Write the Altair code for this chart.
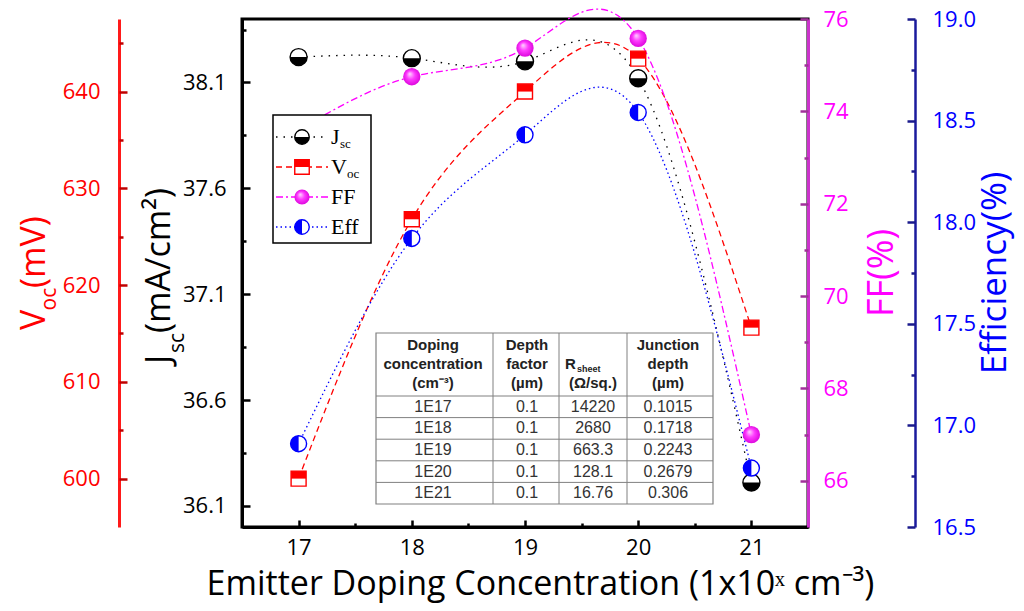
import altair as alt
import pandas as pd

# ---------------- data ----------------
doping = [17, 18, 19, 20, 21]
jsc = [38.22, 38.215, 38.20, 38.12, 36.21]
voc = [600.0, 626.8, 640.0, 643.4, 615.6]
ff = [73.6, 74.75, 75.37, 75.58, 67.0]
eff = [16.91, 17.92, 18.43, 18.54, 16.79]

x_ticks = [17, 18, 19, 20, 21]
x_minor = [17.5, 18.5, 19.5, 20.5]
jsc_ticks = [36.1, 36.6, 37.1, 37.6, 38.1]
jsc_minor = [36.35, 36.85, 37.35, 37.85, 38.35]
voc_ticks = [600, 610, 620, 630, 640]
voc_minor = [605, 615, 625, 635, 645]
ff_ticks = [66, 68, 70, 72, 74, 76]
ff_minor = [67, 69, 71, 73, 75]
eff_ticks = [16.5, 17.0, 17.5, 18.0, 18.5, 19.0]
eff_minor = [16.75, 17.25, 17.75, 18.25, 18.75]

tbl_doping = ["1E17", "1E18", "1E19", "1E20", "1E21"]
tbl_depth = ["0.1", "0.1", "0.1", "0.1", "0.1"]
tbl_rsheet = ["14220", "2680", "663.3", "128.1", "16.76"]
tbl_junction = ["0.1015", "0.1718", "0.2243", "0.2679", "0.306"]

df = pd.DataFrame({"x": doping, "jsc": jsc, "voc": voc, "ff": ff, "eff": eff})

# ---------------- styling ----------------
W, H = 566, 508
FONT = "Open Sans"
HALF_BOTTOM = "M -1 0 A 1 1 0 0 0 1 0 Z"
HALF_LEFT = "M 0 -1 A 1 1 0 0 0 0 1 Z"
HALF_TOP_SQ = "M -1 -1 L 1 -1 L 1 0 L -1 0 Z"
SPHERE = {
    "gradient": "radial",
    "x1": 0.38, "y1": 0.33, "r1": 0.0,
    "x2": 0.5, "y2": 0.5, "r2": 0.55,
    "stops": [
        {"offset": 0.0, "color": "#ffd8ff"},
        {"offset": 0.45, "color": "#ff3cff"},
        {"offset": 1.0, "color": "#d800d8"},
    ],
}

series = [
    dict(field="jsc", domain=[36.0, 38.4], color="#000000", dash=[1.5, 6],
         orient="left", offset=0, ticks=jsc_ticks, minor=jsc_minor, fmt=".1f",
         label="#000000", dom="#000000", tick="#000000", pad=16, dw=3,
         shape="circle", half=HALF_BOTTOM, size=289),
    dict(field="voc", domain=[595, 647.5], color="#ff0000", dash=[6, 4],
         orient="left", offset=123, ticks=voc_ticks, minor=voc_minor, fmt="d",
         label="#ff0000", dom="#ff1a1a", tick="#c00000", pad=19, dw=3,
         shape="square", half=HALF_TOP_SQ, size=225),
    dict(field="ff", domain=[65, 76], color="#ff00ff", dash=[7, 3, 2, 3],
         orient="right", offset=0, ticks=ff_ticks, minor=ff_minor, fmt="d",
         label="#ff00ff", dom="#cc33cc", tick="#a0309a", pad=15, dw=3,
         shape="circle", half=None, size=300),
    dict(field="eff", domain=[16.5, 19.0], color="#0000ff", dash=[1.5, 3],
         orient="right", offset=107, ticks=eff_ticks, minor=eff_minor, fmt=".1f",
         label="#0000ff", dom="#1a1a9c", tick="#1a1a8c", pad=17, dw=2.5,
         shape="circle", half=HALF_LEFT, size=256),
]


def X(axis=None):
    return alt.X("x:Q", scale=alt.Scale(domain=[16.5, 21.5], nice=False, zero=False), axis=axis)


def Y(s, axis=None):
    return alt.Y(f"{s['field']}:Q", scale=alt.Scale(domain=s["domain"], nice=False, zero=False), axis=axis)


def main_axis(s):
    return alt.Axis(orient=s["orient"], offset=s["offset"], values=s["ticks"], format=s["fmt"],
                    ticks=False, domain=True, domainColor=s["dom"], domainWidth=s["dw"],
                    labelColor=s["label"], labelFont=FONT, labelFontSize=22,
                    labelPadding=s["pad"], labelFlush=False, labelOverlap=False,
                    title=None, grid=False)


def tick_axis(orient, offset, values, size, color, width=2.5):
    return alt.Axis(orient=orient, offset=offset, values=values, ticks=True,
                    tickSize={"expr": str(-size)}, tickColor=color, tickWidth=width,
                    labels=False, domain=False, title=None, grid=False)


x_main = alt.Axis(orient="bottom", values=x_ticks, format="d", ticks=False, domain=True,
                  domainColor="black", domainWidth=3, labelColor="black", labelFont=FONT,
                  labelFontSize=22, labelPadding=10, labelFlush=False, labelOverlap=False,
                  title="Emitter Doping Concentration (1x10ˣ cm⁻³)", titleFont=FONT,
                  titleFontSize=34, titleFontWeight="normal", titleColor="black",
                  titleX=298, titleY=67, titleBaseline="alphabetic", titleAlign="center",
                  grid=False)
x_major_ax = tick_axis("bottom", 0, x_ticks, 7, "black")
x_minor_ax = tick_axis("bottom", 0, x_minor, 4, "black")

line_layers, full_layers, half_layers = [], [], []
for i, s in enumerate(series):
    line_layers.append(
        alt.Chart(df).mark_line(interpolate="natural", color=s["color"], strokeWidth=1.3,
                                strokeDash=s["dash"])
        .encode(x=X(x_main if i == 0 else None), y=Y(s, main_axis(s)))
    )
    if s["field"] == "ff":
        full = alt.Chart(df).mark_point(shape="circle", filled=True, fill=SPHERE, strokeWidth=0,
                                        size=s["size"], opacity=1)
    else:
        full = alt.Chart(df).mark_point(shape=s["shape"], filled=True, fill="white",
                                        stroke=s["color"], strokeWidth=1.4, size=s["size"], opacity=1)
    full_layers.append(full.encode(
        x=X(x_major_ax if i == 0 else None),
        y=Y(s, tick_axis(s["orient"], s["offset"], s["ticks"], 8, s["tick"]))))
    if s["half"] is not None:
        half = alt.Chart(df).mark_point(shape=s["half"], filled=True, fill=s["color"],
                                        strokeWidth=0, size=s["size"], opacity=1)
    else:
        half = alt.Chart(df).mark_point(shape="circle", filled=True, fill="white",
                                        size=20, opacity=0)
    half_layers.append(half.encode(
        x=X(x_minor_ax if i == 0 else None),
        y=Y(s, tick_axis(s["orient"], s["offset"], s["minor"], 4, s["tick"]))))


def one():
    return alt.Chart(pd.DataFrame({"k": [0]}))


def text(t, x, y, **kw):
    return one().mark_text(text=t, **kw).encode(x=alt.value(x), y=alt.value(y))


def hline(x1, x2, y, **kw):
    return one().mark_rule(**kw).encode(x=alt.value(x1), x2=alt.value(x2), y=alt.value(y))


def vline(x, y1, y2, **kw):
    return one().mark_rule(**kw).encode(x=alt.value(x), y=alt.value(y1), y2=alt.value(y2))


deco = []

# ---------- rotated axis titles ----------
rot = dict(font=FONT, angle=270, align="left", baseline="alphabetic")
deco += [
    text("V", -197, 311, fontSize=34, color="#ff0000", **rot),
    text("oc", -186, 291.5, fontSize=21, color="#ff0000", **rot),
    text("(mV)", -197, 269, fontSize=34, color="#ff0000", **rot),
    text("J", -72, 345, fontSize=34, color="black", **rot),
    text("sc", -58, 334, fontSize=21, color="black", **rot),
    text("(mA/cm²)", -72, 314, fontSize=34, color="black", **rot),
]
ctr = dict(font=FONT, angle=270, align="center", baseline="alphabetic")
deco += [
    text("FF(%)", 651, 254, fontSize=36, color="#ff00ff", **ctr),
    text("Efficiency(%)", 764, 254, fontSize=35, color="#0000ff", **ctr),
]

# ---------- legend ----------
deco.append(one().mark_rect(fill="white", stroke="black", strokeWidth=1.5)
            .encode(x=alt.value(31), x2=alt.value(129), y=alt.value(96), y2=alt.value(224)))
leg_y = [118, 148, 178, 208]
leg_main = ["J", "V", "FF", "Eff"]
leg_sub = ["sc", "oc", "", ""]
leg_subx = [9, 16, 0, 0]
for s, yy, m, sb, sx in zip(series, leg_y, leg_main, leg_sub, leg_subx):
    deco.append(hline(34, 86, yy, color=s["color"], strokeWidth=1.3, strokeDash=s["dash"]))
    if s["field"] == "ff":
        deco.append(one().mark_point(shape="circle", filled=True, fill=SPHERE, strokeWidth=0,
                                     size=230, opacity=1).encode(x=alt.value(60), y=alt.value(yy)))
    else:
        deco.append(one().mark_point(shape=s["shape"], filled=True, fill="white", stroke=s["color"],
                                     strokeWidth=1.4, size=210, opacity=1)
                    .encode(x=alt.value(60), y=alt.value(yy)))
        deco.append(one().mark_point(shape=s["half"], filled=True, fill=s["color"], strokeWidth=0,
                                     size=210, opacity=1).encode(x=alt.value(60), y=alt.value(yy)))
    deco.append(text(m, 89, yy + 7, font="Liberation Serif", fontSize=22, color="black",
                     align="left", baseline="alphabetic"))
    if sb:
        deco.append(text(sb, 89 + sx, yy + 11, font="Liberation Serif", fontSize=13, color="black",
                         align="left", baseline="alphabetic"))

# ---------- inset table ----------
col_x = [134, 251, 317, 385, 471]
col_c = [191, 285, 351, 426]
t_top, t_head, row_h = 314, 377, 21.6
t_bot = t_head + 5 * row_h
GRID = "#808080"
deco.append(one().mark_rect(fill="white", stroke=GRID, strokeWidth=1.2)
            .encode(x=alt.value(col_x[0]), x2=alt.value(col_x[-1]), y=alt.value(t_top), y2=alt.value(t_bot)))
for k in range(5):
    deco.append(hline(col_x[0], col_x[-1], t_head + k * row_h, color=GRID, strokeWidth=1))
for cx in col_x[1:-1]:
    deco.append(vline(cx, t_top, t_bot, color=GRID, strokeWidth=1))

hdr = dict(font="Liberation Sans", fontSize=15, fontWeight="bold", color="#222222",
           baseline="alphabetic", lineHeight=19)
deco += [
    text(["Doping", "concentration", "(cm⁻³)"], col_c[0], 331, align="center", **hdr),
    text(["Depth", "factor", "(µm)"], col_c[1], 331, align="center", **hdr),
    text("R", 323, 350, align="left", **hdr),
    text("sheet", 335, 353, align="left", font="Liberation Sans", fontSize=9, fontWeight="bold",
         color="#222222", baseline="alphabetic"),
    text("(Ω/sq.)", col_c[2], 369, align="center", **hdr),
    text(["Junction", "depth", "(µm)"], col_c[3], 331, align="center", **hdr),
]
row_centres = [t_head + row_h * (k + 0.5) for k in range(5)]
for cx, vals in zip(col_c, [tbl_doping, tbl_depth, tbl_rsheet, tbl_junction]):
    tdf = pd.DataFrame({"t": vals, "r": list(range(len(vals)))})
    deco.append(
        alt.Chart(tdf).mark_text(font="Liberation Sans", fontSize=16, color="#333333",
                                 align="center", baseline="middle")
        .encode(x=alt.value(cx),
                y=alt.Y("r:Q", scale=alt.Scale(domain=[0, 4], range=[row_centres[0], row_centres[-1]]),
                        axis=None),
                text="t:N")
    )

layers = line_layers + full_layers + half_layers + deco

chart = (
    alt.layer(*layers)
    .resolve_scale(y="independent")
    .resolve_axis(x="independent", y="independent")
    .properties(width=W, height=H, autosize=alt.AutoSizeParams(type="none"),
                padding={"left": 234, "top": 11, "right": 208, "bottom": 76},
                background="white")
    .configure_view(stroke="black", strokeWidth=3)
    .configure_axis(grid=False)
)

chart.save("out.html", embed_options={"renderer": "svg", "actions": False})
